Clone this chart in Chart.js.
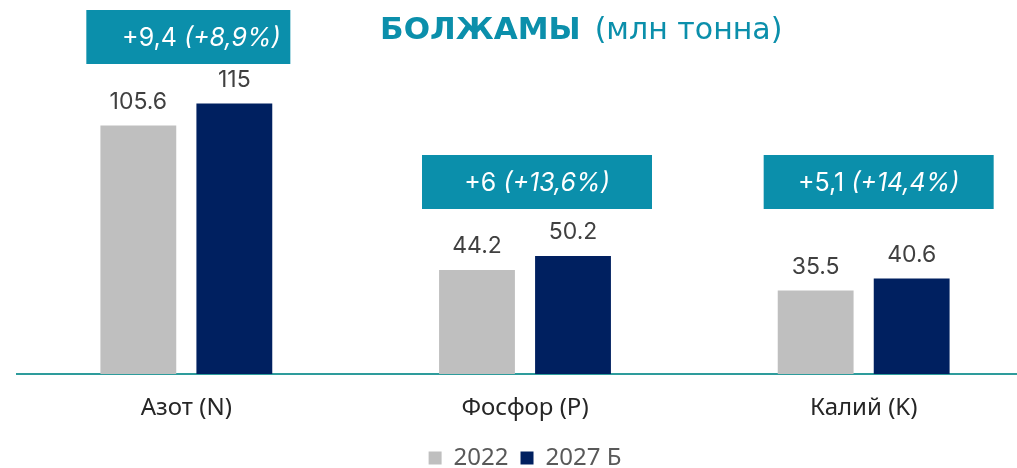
<!DOCTYPE html>
<html lang="en">

<head>
    <meta charset="UTF-8">
    <title>Болжамы</title>
    <script src="https://cdn.jsdelivr.net/npm/chart.js"></script>
    <style>
        html, body { margin: 0; padding: 0; background: #fff; overflow: hidden; }
        #wrap { width: 1050px; height: 468px; position: relative; }
    </style>
</head>

<body>
    <div id="wrap">
        <canvas id="grafico"></canvas>
    </div>

<script>
    // dados
    var categorias = ['Азот (N)', 'Фосфор (P)', 'Калий (K)'];
    var anos = ['2022', '2027 Б'];
    var valores2022 = [105.6, 44.2, 35.5];
    var valores2027 = [115, 50.2, 40.6];
    var deltaAbs = ['+9,4', '+6', '+5,1'];
    var deltaPct = ['(+8,9%)', '(+13,6%)', '(+14,4%)'];

    var teal = '#0b8fab';
    var ctx = document.getElementById('grafico');

    // rotulos de valor em cima das barras
    var rotulos = {
        id: 'rotulos',
        afterDatasetsDraw(chart) {
            var c = chart.ctx;
            c.save();
            c.font = '23px Inter';
            c.fillStyle = '#404040';
            c.textAlign = 'center';
            c.textBaseline = 'bottom';
            chart.data.datasets.forEach(function (ds, i) {
                chart.getDatasetMeta(i).data.forEach(function (bar, j) {
                    c.fillText(String(ds.data[j]), bar.x, bar.y - 12);
                });
            });
            c.restore();
        }
    };

    // caixas com a variacao + titulo
    var caixas = {
        id: 'caixas',
        afterDraw(chart) {
            var c = chart.ctx;
            var x = chart.scales.x;
            var topos = [10, 155, 155];
            var larguras = [204, 230, 230];
            var desloc = [2, 12, 15];
            var deslocTexto = [13, 0, 0];
            c.save();
            for (var i = 0; i < categorias.length; i++) {
                var cx = x.getPixelForValue(i) + desloc[i];
                c.fillStyle = teal;
                c.fillRect(cx - larguras[i] / 2, topos[i], larguras[i], 54);
                c.font = '25px Inter';
                var t1 = deltaAbs[i] + ' ';
                var w1 = c.measureText(t1).width;
                c.font = 'italic 25px Inter';
                var w2 = c.measureText(deltaPct[i]).width;
                var sx = cx + deslocTexto[i] - (w1 + w2) / 2;
                c.fillStyle = '#ffffff';
                c.textBaseline = 'middle';
                c.textAlign = 'left';
                c.font = '25px Inter';
                c.fillText(t1, sx, topos[i] + 28);
                c.font = 'italic 25px Inter';
                c.fillText(deltaPct[i], sx + w1, topos[i] + 28);
            }
            // titulo
            c.fillStyle = teal;
            c.textBaseline = 'alphabetic';
            c.font = 'bold 31px "DejaVu Sans"';
            c.fillText('БОЛЖАМЫ', 380, 39);
            var wb = c.measureText('БОЛЖАМЫ').width;
            c.font = '30px "DejaVu Sans"';
            c.fillText('(млн тонна)', 380 + wb + 14, 39);
            c.restore();
        }
    };

    new Chart(ctx, {
        type: 'bar',
        data: {
            labels: categorias,
            datasets: [{
                label: anos[0],
                data: valores2022,
                backgroundColor: '#bfbfbf',
                barPercentage: 0.79,
                categoryPercentage: 0.567
            }, {
                label: anos[1],
                data: valores2027,
                backgroundColor: '#002060',
                barPercentage: 0.79,
                categoryPercentage: 0.567
            }]
        },
        options: {
            responsive: true,
            maintainAspectRatio: false,
            animation: false,
            layout: {
                padding: { left: 17, right: 17, top: 0, bottom: 0 }
            },
            scales: {
                x: {
                    grid: { display: false, drawTicks: false },
                    border: { display: true, color: '#2e9c9c', width: 2 },
                    ticks: {
                        font: { size: 24, family: 'Noto Sans' },
                        color: '#262626',
                        padding: 20
                    },
                    afterFit: function (escala) {
                        escala.height = 60;
                    }
                },
                y: {
                    display: false,
                    min: 0,
                    max: 159
                }
            },
            plugins: {
                legend: {
                    position: 'bottom',
                    maxHeight: 34,
                    labels: {
                        boxWidth: 13,
                        boxHeight: 13,
                        padding: 12,
                        font: { size: 24, family: 'Noto Sans' },
                        color: '#595959'
                    }
                },
                tooltip: { enabled: false }
            }
        },
        plugins: [rotulos, caixas]
    });
</script>
</body>

</html>
